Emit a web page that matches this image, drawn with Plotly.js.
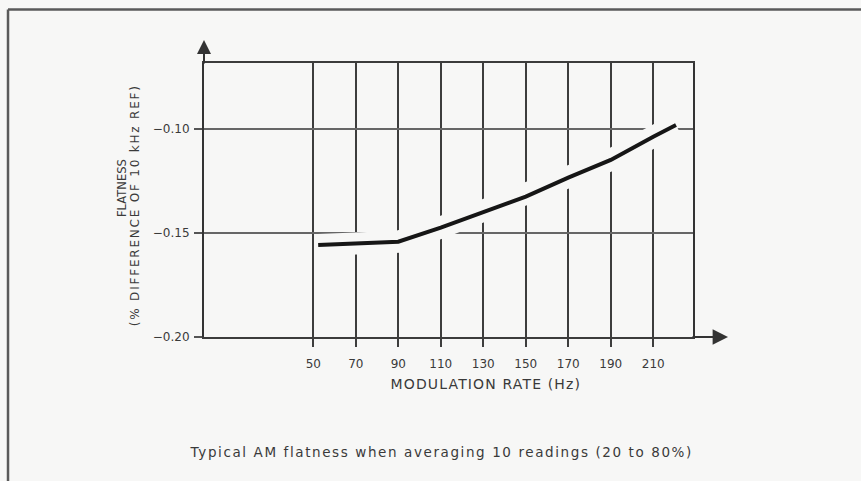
<!DOCTYPE html>
<html>
<head>
<meta charset="utf-8">
<script src="https://cdn.plot.ly/plotly-3.0.1.min.js"></script>
<style>
  html, body { margin: 0; padding: 0; background: #f7f7f6; }
  #plot { width: 861px; height: 481px; }
</style>
</head>
<body>
<div id="plot"></div>
<script>
// ---- data ----
const modRate  = [52.3, 90, 110, 130, 150, 170, 190, 210, 220.7];           // Hz
const flatness = [-0.1558, -0.1542, -0.1474, -0.1398, -0.1325, -0.1234, -0.1149, -0.1037, -0.0981]; // %
const xTickVals = [50, 70, 90, 110, 130, 150, 170, 190, 210];
const xTickText = ['50', '70', '90', '110', '130', '150', '170', '190', '210'];
const yTickVals = [-0.10, -0.15, -0.20];
const yTickText = ['\u22120.10', '\u22120.15', '\u22120.20'];
const yTitleLine1 = 'FLATNESS';
const yTitleLine2 = '(% DIFFERENCE OF 10 kHz REF)';
const xTitle = 'MODULATION RATE (Hz)';
const caption = 'Typical AM flatness when averaging 10 readings (20 to 80%)';

const textColor = '#3a3a3a';
const font = 'DejaVu Sans, Liberation Sans, sans-serif';

const data = [
  { // white halo that interrupts the grid lines
    x: modRate, y: flatness, type: 'scatter', mode: 'lines',
    line: { color: '#f7f7f6', width: 22 }, hoverinfo: 'skip', showlegend: false
  },
  {
    x: modRate, y: flatness, type: 'scatter', mode: 'lines',
    line: { color: '#161616', width: 4 }, showlegend: false
  }
];

const layout = {
  width: 861, height: 481,
  margin: { l: 204, r: 168, t: 63, b: 144, pad: 0 },
  paper_bgcolor: '#f7f7f6',
  plot_bgcolor: '#f7f7f6',
  showlegend: false,
  hovermode: false,
  font: { family: font, color: textColor, size: 12 },
  xaxis: {
    range: [-1.44, 228.7],
    tickmode: 'array', tickvals: xTickVals, ticktext: xTickText,
    showgrid: true, gridcolor: '#3d3d3d', gridwidth: 1.6,
    zeroline: false,
    showline: true, linecolor: '#3c3c3c', linewidth: 2.2, mirror: true,
    ticks: 'outside', ticklen: 8, tickwidth: 1.6, tickcolor: '#3d3d3d',
    tickfont: { family: font, size: 12, color: textColor },
    ticklabelstandoff: 6,
    fixedrange: true
  },
  yaxis: {
    range: [-0.2, -0.0683],
    tickmode: 'array', tickvals: yTickVals, ticktext: yTickText,
    showgrid: true, gridcolor: '#666', gridwidth: 2,
    zeroline: false,
    showline: true, linecolor: '#333', linewidth: 2, mirror: true,
    ticks: 'outside', ticklen: 8, tickwidth: 2, tickcolor: '#555',
    tickfont: { family: font, size: 12, color: textColor },
    ticklabelstandoff: 2,
    fixedrange: true
  },
  shapes: [
    // scanned frame: top and left edges
    { type: 'line', xref: 'paper', yref: 'paper', x0: -0.4008, x1: 1.35, y0: 1.195, y1: 1.195,
      line: { color: '#5a5a5a', width: 2.5 } },
    { type: 'line', xref: 'paper', yref: 'paper', x0: -0.4008, x1: -0.4008, y0: 1.195, y1: -0.54,
      line: { color: '#5a5a5a', width: 2.5 } }
  ],
  annotations: [
    // axis arrows
    { xref: 'paper', yref: 'paper', x: 0, y: 1.0839, ax: 0, ay: 25, text: '',
      showarrow: true, arrowhead: 2, arrowsize: 1.4, arrowwidth: 2, arrowcolor: '#333' },
    { xref: 'paper', yref: 'paper', x: 1.0716, y: 0, ax: -37, ay: 0, text: '',
      showarrow: true, arrowhead: 2, arrowsize: 1.4, arrowwidth: 2.2, arrowcolor: '#333' },
    // titles
    { xref: 'paper', yref: 'paper', x: -0.1677, y: 0.5438, text: yTitleLine1, textangle: -90,
      showarrow: false, xanchor: 'center', yanchor: 'middle',
      font: { family: font, size: 11.5, color: textColor } },
    { xref: 'paper', yref: 'paper', x: -0.1411, y: 0.4818, text: yTitleLine2, textangle: -90,
      showarrow: false, xanchor: 'center', yanchor: 'middle',
      font: { family: font, size: 12, color: textColor } },
    { xref: 'paper', yref: 'paper', x: 0.5767, y: -0.1715, text: xTitle,
      showarrow: false, xanchor: 'center', yanchor: 'middle',
      font: { family: font, size: 14, color: textColor } },
    { xref: 'paper', yref: 'paper', x: 0.4847, y: -0.4197, text: caption,
      showarrow: false, xanchor: 'center', yanchor: 'middle',
      font: { family: font, size: 13.5, color: textColor } }
  ]
};

const letterSpacing = {};
letterSpacing[xTitle] = 1.15;
letterSpacing[caption] = 1.6;
letterSpacing[yTitleLine2] = 1.8;

Plotly.newPlot('plot', data, layout, { displayModeBar: false, staticPlot: true }).then(function (gd) {
  gd.querySelectorAll('.annotation-text').forEach(function (t) {
    const s = letterSpacing[t.textContent];
    if (s) t.style.letterSpacing = s + 'px';
  });
});
</script>
</body>
</html>
